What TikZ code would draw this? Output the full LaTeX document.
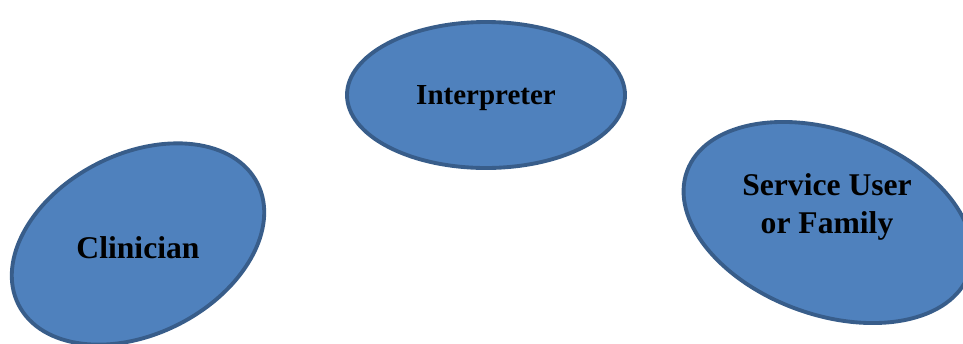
\documentclass[tikz,border=0pt]{standalone}
\usepackage{fontspec}
\setmainfont{Liberation Serif}
\usepackage{tikz}

\definecolor{bubblefill}{HTML}{4F81BD}
\definecolor{bubbleline}{HTML}{385D8A}

\begin{document}
\begin{tikzpicture}[x=0.02cm,y=0.02cm]
\tikzset{
  bubble/.style={fill=bubblefill, draw=bubbleline, line width=2.2pt},
  bubbletext/.style={font=\bfseries\fontsize{18}{22}\selectfont, align=center, inner sep=0pt},
}
\useasboundingbox (0,0) rectangle (963,343);
\clip (0,0) rectangle (963,343);

\draw[bubble, rotate around={27:(138,99)}] (138,99) ellipse [x radius=134, y radius=90];
\draw[bubble] (486,248) ellipse [x radius=139, y radius=73];
\draw[bubble, rotate around={-20:(828,120.5)}] (828,120.5) ellipse [x radius=150, y radius=92];

\node[bubbletext] (clinician) at (138,95) {Clinician};
\node[bubbletext, font=\bfseries\fontsize{16.5}{20}\selectfont] (interpreter) at (486,245) {Interpreter};
\node[bubbletext] (serviceuser) at (827,136) {Service User\\or Family};

\end{tikzpicture}
\end{document}
